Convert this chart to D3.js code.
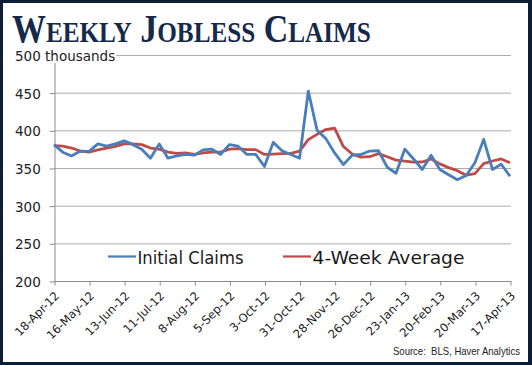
<!DOCTYPE html>
<html>
<head>
<meta charset="utf-8">
<script src="https://cdn.jsdelivr.net/npm/d3@7"></script>
<style>
  html, body { margin: 0; padding: 0; background: #fff; }
  svg { display: block; }
</style>
</head>
<body>
<script>
// weekly data, first week 18-Apr-12
const startWeek = "18-Apr-12";
const tickLabels = ["18-Apr-12", "16-May-12", "13-Jun-12", "11-Jul-12", "8-Aug-12", "5-Sep-12",
  "3-Oct-12", "31-Oct-12", "28-Nov-12", "26-Dec-12", "23-Jan-13", "20-Feb-13", "20-Mar-13", "17-Apr-13"];
const yTicks = [200, 250, 300, 350, 400, 450, 500];

// thousands
const initialClaims = [381, 371, 366, 372.5, 372, 382, 379, 382, 386, 381, 375, 363, 382, 363, 366, 368,
  367, 374, 375, 368, 381, 379, 368, 368, 352, 384, 373, 368, 363, 452, 400, 389, 370, 354.5, 367, 368,
  372.5, 373, 351, 343, 375, 362, 348, 367, 348, 341, 334.5, 340, 357, 388, 348, 355, 339];
const fourWeekAvg = [379.7, 379, 376.5, 372.5, 371, 374, 376.5, 378.8, 382, 382, 381, 376.5, 375, 371,
  369.5, 370, 368, 370, 371, 371, 375, 375.7, 374.4, 374.4, 368, 368.5, 369, 369.5, 372.5, 387.6, 394.7,
  401, 403, 378.5, 368.5, 364.5, 365, 369, 365, 360.5, 359, 357.8, 358, 362, 355.5, 350.5, 346.5, 340.5,
  342.5, 355.8, 359.3, 362, 357];

const W = 532, H = 365;
const parse = d3.timeParse("%d-%b-%y");
const t0 = parse(startWeek);
const weeks = initialClaims.map((d, i) => d3.timeDay.offset(t0, 7 * i));

const svg = d3.select("body").append("svg")
    .attr("width", W)
    .attr("height", H);

// dark frame
svg.append("rect").attr("width", W).attr("height", H).attr("fill", "#0e1e36");
svg.append("rect").attr("x", 3).attr("y", 3).attr("width", W - 7).attr("height", H - 6).attr("fill", "#fff");

const x = d3.scaleTime().domain([weeks[0], weeks[weeks.length - 1]]).range([54, 510]);
const y = d3.scaleLinear().domain([200, 500]).range([281, 55]);
const plotRight = 511;

// title, drawn as small caps
const title = svg.append("text")
    .attr("x", 0).attr("y", 0)
    .attr("font-family", "'Liberation Serif', serif")
    .attr("font-weight", "bold")
    .attr("fill", "#15294a");
["Weekly", "Jobless", "Claims"].forEach((w, i) => {
  title.append("tspan").attr("font-size", 41).text((i ? " " : "") + w[0]);
  title.append("tspan").attr("font-size", 30.5).text(w.slice(1).toUpperCase());
});
const tw = title.node().getComputedTextLength();
title.attr("transform", "translate(12,42) scale(" + (359 / tw) + ",1)");

// grid lines
svg.append("g").selectAll("line")
    .data(yTicks.slice(1))
  .enter().append("line")
    .attr("x1", 54).attr("x2", plotRight)
    .attr("y1", d => y(d) + 0.5).attr("y2", d => y(d) + 0.5)
    .attr("stroke", "#acacac").attr("stroke-width", 1);

// y axis
const yAxis = svg.append("g")
    .attr("transform", "translate(54.5,0.5)")
    .call(d3.axisLeft(y).tickValues(yTicks).tickSize(5).tickPadding(8).tickSizeOuter(0));
yAxis.select(".domain").attr("stroke", "#8c8c8c");
yAxis.selectAll(".tick line").attr("stroke", "#8c8c8c");
yAxis.selectAll(".tick text")
    .attr("font-family", "'DejaVu Sans', sans-serif")
    .attr("font-size", 13.5)
    .attr("fill", "#222")
    .attr("text-anchor", "start")
    .attr("x", -39.5)
    .attr("dy", "0.36em");
// top label carries the unit
const topTick = yAxis.selectAll(".tick").filter(d => d === 500);
topTick.select("text").text("500 thousands");
const bb = topTick.select("text").node().getBBox();
topTick.insert("rect", "text")
    .attr("x", bb.x + 26).attr("y", bb.y + 1).attr("width", bb.width - 25).attr("height", bb.height - 2)
    .attr("fill", "#fff");

// x axis
const xAxis = svg.append("g")
    .attr("transform", "translate(0.5,281.5)")
    .call(d3.axisBottom(x).tickValues(tickLabels.map(parse)).tickSize(4).tickSizeOuter(0)
      .tickFormat((d, i) => tickLabels[i]));
xAxis.select(".domain").attr("d", "M53.5,0H" + plotRight).attr("stroke", "#8c8c8c");
xAxis.selectAll(".tick line").attr("stroke", "#8c8c8c");
xAxis.selectAll(".tick text")
    .attr("font-family", "'DejaVu Sans', sans-serif")
    .attr("font-size", 11.6)
    .attr("fill", "#222")
    .attr("text-anchor", "end")
    .attr("y", 0).attr("dy", 0)
    .attr("transform", "translate(5,15) rotate(-45)");

// lines
const line = d3.line().x((d, i) => x(weeks[i])).y(d => y(d));
svg.append("path")
    .datum(fourWeekAvg)
    .attr("fill", "none")
    .attr("stroke", "#be4b48")
    .attr("stroke-width", 2.8)
    .attr("stroke-linejoin", "round")
    .attr("d", line);
svg.append("path")
    .datum(initialClaims)
    .attr("fill", "none")
    .attr("stroke", "#4a7ebb")
    .attr("stroke-width", 2.8)
    .attr("stroke-linejoin", "round")
    .attr("d", line);

// legend
const legend = [
  {name: "Initial Claims", color: "#4a7ebb", x: 108, len: 106},
  {name: "4-Week Average", color: "#be4b48", x: 283, len: 152}
];
const lg = svg.append("g").selectAll("g")
    .data(legend)
  .enter().append("g")
    .attr("transform", d => "translate(" + d.x + ",256.5)");
lg.append("line")
    .attr("x1", 0).attr("x2", 28)
    .attr("stroke", d => d.color).attr("stroke-width", 2.2);
lg.append("text")
    .attr("x", 29.5).attr("y", 7)
    .attr("font-family", "'DejaVu Sans', sans-serif")
    .attr("font-size", 18)
    .attr("fill", "#1a1a1a")
    .attr("textLength", d => d.len)
    .attr("lengthAdjust", "spacingAndGlyphs")
    .text(d => d.name);

// source
svg.append("text")
    .attr("x", 393).attr("y", 355)
    .attr("font-family", "'Liberation Sans', sans-serif")
    .attr("font-size", 10.5)
    .attr("fill", "#222")
    .attr("textLength", 127)
    .attr("lengthAdjust", "spacingAndGlyphs")
    .attr("xml:space", "preserve")
    .text("Source:  BLS, Haver Analytics");
</script>
</body>
</html>
